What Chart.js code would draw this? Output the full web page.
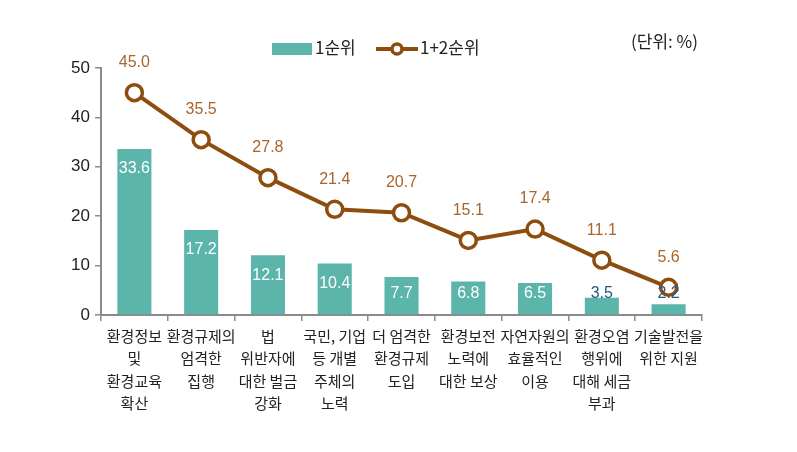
<!DOCTYPE html>
<html>
<head>
<meta charset="utf-8">
<script src="https://cdn.jsdelivr.net/npm/chart.js@4"></script>
<style>
    html, body { margin: 0; padding: 0; background: #fff; }
    #wrap { position: relative; width: 797px; height: 452px; }
</style>
</head>
<body>
<div id="wrap"><canvas id="chart" width="797" height="452"></canvas></div>
<script>
// Categories (multi-line labels) and series values
const categories = [
    ['환경정보', '및', '환경교육', '확산'],
    ['환경규제의', '엄격한', '집행'],
    ['법', '위반자에', '대한 벌금', '강화'],
    ['국민, 기업', '등 개별', '주체의', '노력'],
    ['더 엄격한', '환경규제', '도입'],
    ['환경보전', '노력에', '대한 보상'],
    ['자연자원의', '효율적인', '이용'],
    ['환경오염', '행위에', '대해 세금', '부과'],
    ['기술발전을', '위한 지원']
];
const firstRank = [33.6, 17.2, 12.1, 10.4, 7.7, 6.8, 6.5, 3.5, 2.2];
const firstSecondRank = [45.0, 35.5, 27.8, 21.4, 20.7, 15.1, 17.4, 11.1, 5.6];
const yTicks = [0, 10, 20, 30, 40, 50];

const TEAL = '#5bb5aa';
const BROWN = '#8c4d0f';
const NUM_FONT = '"Liberation Sans", Arial, sans-serif';
const KR_FONT = '"Noto Sans CJK KR", "Noto Sans", sans-serif';

// Draws the value labels plus legend and unit text
const labelPlugin = {
    id: 'labelPlugin',
    afterDatasetsDraw(chart) {
        const ctx = chart.ctx;
        ctx.save();
        ctx.textAlign = 'center';
        ctx.textBaseline = 'middle';
        ctx.font = '16px ' + NUM_FONT;

        // bar labels
        chart.getDatasetMeta(0).data.forEach((bar, i) => {
            const y = Math.min(bar.y + 20, chart.scales.y.getPixelForValue(0) - 21);
            ctx.fillStyle = firstRank[i] < 5 ? '#1f5a85' : '#ffffff';
            ctx.fillText(firstRank[i].toFixed(1), bar.x, y);
        });

        // line labels
        ctx.fillStyle = '#a8652c';
        chart.getDatasetMeta(1).data.forEach((pt, i) => {
            ctx.fillText(firstSecondRank[i].toFixed(1), pt.x, pt.y - 30);
        });

        // legend
        ctx.fillStyle = TEAL;
        ctx.fillRect(272, 43, 40, 12);
        ctx.fillStyle = '#222';
        ctx.textAlign = 'left';
        ctx.font = '17px ' + KR_FONT;
        ctx.fillText('1순위', 315, 48);

        ctx.strokeStyle = BROWN;
        ctx.lineWidth = 4;
        ctx.beginPath();
        ctx.moveTo(376, 49);
        ctx.lineTo(418, 49);
        ctx.stroke();
        ctx.beginPath();
        ctx.arc(397, 49, 5, 0, Math.PI * 2);
        ctx.fillStyle = '#fff';
        ctx.fill();
        ctx.lineWidth = 3.5;
        ctx.stroke();
        ctx.fillStyle = '#222';
        ctx.fillText('1+2순위', 420, 48);

        ctx.fillText('(단위: %)', 631, 42);
        ctx.restore();
    }
};

function renderChart() {
    const canvas = document.getElementById('chart');

    new Chart(canvas, {
        data: {
            labels: categories,
            datasets: [
                {
                    type: 'bar',
                    label: '1순위',
                    data: firstRank,
                    backgroundColor: TEAL,
                    barPercentage: 0.51,
                    categoryPercentage: 1.0,
                    order: 2
                },
                {
                    type: 'line',
                    label: '1+2순위',
                    data: firstSecondRank,
                    borderColor: BROWN,
                    borderWidth: 4,
                    pointRadius: 8,
                    pointBorderWidth: 3.5,
                    pointBackgroundColor: '#ffffff',
                    pointBorderColor: BROWN,
                    tension: 0,
                    order: 1
                }
            ]
        },
        options: {
            responsive: false,
            animation: false,
            layout: { padding: { top: 68, right: 95, left: 0, bottom: 0 } },
            scales: {
                x: {
                    offset: true,
                    grid: {
                        offset: true,
                        drawOnChartArea: false,
                        color: '#8a8a8a',
                        tickLength: 6,
                        lineWidth: 1.5
                    },
                    border: { color: '#8a8a8a', width: 2 },
                    ticks: {
                        color: '#222',
                        font: { family: KR_FONT, size: 15, lineHeight: 1.5 },
                        maxRotation: 0,
                        autoSkip: false,
                        padding: 4
                    },
                    afterFit(scale) { scale.height = 137; }
                },
                y: {
                    min: 0,
                    max: 50,
                    afterBuildTicks(scale) { scale.ticks = yTicks.map(v => ({ value: v })); },
                    grid: {
                        drawOnChartArea: false,
                        color: '#8a8a8a',
                        tickLength: 6,
                        lineWidth: 1.5
                    },
                    border: { color: '#8a8a8a', width: 2 },
                    ticks: {
                        color: '#222',
                        font: { family: NUM_FONT, size: 17 },
                        padding: 5
                    },
                    afterFit(scale) { scale.width = 101; }
                }
            },
            plugins: {
                legend: { display: false },
                tooltip: { enabled: false }
            }
        },
        plugins: [labelPlugin]
    });
}

renderChart();
</script>
</body>
</html>
